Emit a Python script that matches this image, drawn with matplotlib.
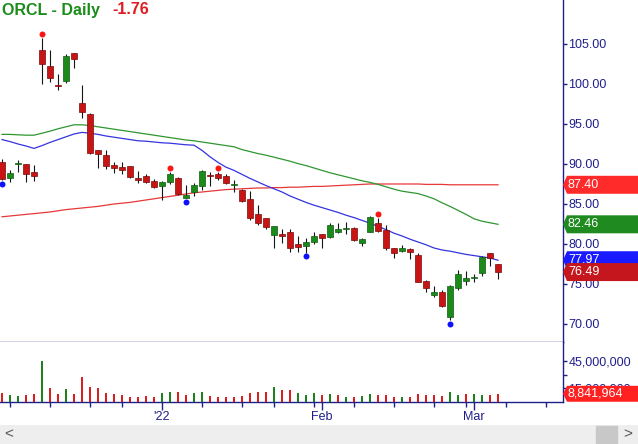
import matplotlib
matplotlib.use('Agg')
import matplotlib.pyplot as plt
import matplotlib.transforms as mtransforms
from matplotlib.patches import Polygon, Rectangle
import numpy as np

plt.rcParams['font.family'] = ['Liberation Sans', 'DejaVu Sans']

symbol = 'ORCL'
period = 'Daily'
change = -1.76

# daily candles, 3 Dec 2021 .. 4 Mar 2022
opens = [90.3, 88.2, 89.95, 90.0, 89.05, 104.25, 102.3, 99.85, 100.4, 103.85,
         97.6, 96.3, 91.7, 91.1, 89.9, 89.6, 89.7, 88.3, 88.5, 87.9,
         87.2, 87.7, 88.3, 85.8, 86.5, 87.2, 88.6, 88.75, 88.55, 87.35,
         86.75, 85.6, 83.75, 83.25, 81.1, 81.25, 81.45, 80.0, 79.7, 80.3,
         81.25, 80.9, 81.45, 81.85, 81.95, 80.1, 81.55, 82.6, 81.75, 79.45,
         79.15, 79.4, 78.6, 75.4, 73.6, 74.0, 70.85, 74.45, 75.4, 75.8,
         76.35, 78.85, 77.45]
highs = [90.6, 89.2, 90.5, 90.05, 89.9, 105.7, 104.25, 101.3, 103.7, 103.9,
         99.9, 96.4, 91.7, 91.75, 90.3, 90.2, 89.8, 89.1, 88.8, 88.1,
         87.9, 89.0, 88.4, 87.4, 87.65, 89.2, 89.05, 88.95, 88.75, 88.0,
         86.9, 86.6, 84.9, 83.3, 82.3, 81.9, 81.9, 81.0, 80.7, 81.45,
         81.3, 82.65, 82.6, 82.7, 82.1, 80.75, 83.55, 83.25, 82.4, 79.5,
         79.9, 79.45, 78.85, 75.45, 74.75, 74.2, 74.9, 76.75, 76.65, 76.25,
         78.55, 78.9, 77.5]
lows = [88.0, 87.7, 89.0, 87.7, 87.9, 99.95, 100.3, 99.2, 100.1, 102.0,
        95.7, 91.3, 89.55, 89.4, 88.9, 88.8, 88.3, 87.6, 87.6, 87.0,
        85.5, 87.5, 86.1, 85.7, 86.0, 86.8, 87.2, 88.0, 87.5, 86.5,
        85.3, 83.0, 82.4, 81.9, 79.5, 80.1, 79.0, 79.0, 78.9, 79.95,
        79.45, 80.8, 81.4, 81.3, 80.4, 79.7, 81.5, 81.5, 79.25, 78.3,
        79.05, 78.1, 75.25, 74.05, 73.4, 72.1, 70.5, 74.25, 74.9, 75.3,
        76.0, 77.3, 75.6]
closes = [88.1, 88.9, 90.0, 88.8, 88.55, 102.5, 100.7, 99.75, 103.5, 103.1,
          96.5, 91.4, 91.3, 89.7, 89.55, 89.3, 88.4, 88.0, 87.8, 87.1,
          87.7, 88.75, 86.25, 86.15, 87.4, 89.1, 88.5, 88.2, 87.65, 87.55,
          85.4, 83.2, 82.6, 82.1, 82.2, 80.95, 79.45, 79.6, 80.3, 80.95,
          80.8, 82.4, 81.85, 81.9, 80.5, 80.6, 83.4, 81.6, 79.55, 78.85,
          79.55, 79.05, 75.3, 74.45, 74.0, 72.25, 74.75, 76.25, 75.75, 75.85,
          78.4, 78.25, 76.49]
prior_close = 90.9

volumes_m = [10.1, 7.5, 6.4, 7.5, 8.6, 45.0, 15.75, 8.6, 14.25, 8.6,
             27.75, 16.5, 15.4, 9.75, 8.6, 7.5, 5.25, 5.6, 6.4, 5.6,
             9.75, 10.9, 10.9, 7.5, 9.75, 10.9, 6.4, 5.25, 5.25, 5.6,
             6.4, 9.75, 10.9, 10.9, 16.5, 13.5, 13.5, 9.75, 7.5, 9.75,
             7.5, 8.6, 7.5, 5.25, 5.25, 6.4, 8.6, 7.5, 7.5, 5.25,
             5.25, 5.25, 8.6, 7.5, 7.5, 6.4, 10.9, 7.5, 8.6, 8.6,
             7.5, 7.5, 8.841964]

sma_fast = [93.05, 92.8, 92.5, 92.25, 91.95, 92.3, 92.7, 93.05, 93.4, 93.75,
            93.95, 93.85, 93.7, 93.5, 93.35, 93.2, 93.05, 92.9, 92.85, 92.75,
            92.65, 92.6, 92.5, 92.4, 92.35, 91.7, 90.9, 90.2, 89.6, 89.2,
            88.7, 88.2, 87.75, 87.3, 86.9, 86.5, 86.0, 85.6, 85.2, 84.85,
            84.55, 84.25, 83.95, 83.6, 83.3, 82.95, 82.6, 82.2, 81.8, 81.35,
            81.0, 80.6, 80.25, 79.9, 79.5, 79.25, 79.1, 78.9, 78.7, 78.55,
            78.4, 78.25, 77.97]
sma_mid = [93.7, 93.7, 93.65, 93.6, 93.6, 93.85, 94.1, 94.4, 94.65, 94.9,
           94.9, 94.8, 94.65, 94.5, 94.35, 94.2, 94.05, 93.9, 93.75, 93.6,
           93.45, 93.3, 93.15, 93.0, 92.9, 92.75, 92.6, 92.45, 92.3, 92.15,
           91.8, 91.55, 91.3, 91.1, 90.85, 90.6, 90.35, 90.05, 89.8, 89.5,
           89.2, 88.9, 88.65, 88.4, 88.15, 87.9, 87.7, 87.45, 87.15, 86.85,
           86.6, 86.45, 86.3, 86.0, 85.65, 85.15, 84.7, 84.2, 83.7, 83.15,
           82.85, 82.65, 82.46]
sma_slow = [83.4, 83.5, 83.6, 83.7, 83.8, 83.9, 84.0, 84.15, 84.3, 84.4,
            84.5, 84.6, 84.7, 84.85, 85.0, 85.1, 85.2, 85.35, 85.5, 85.65,
            85.8, 85.95, 86.1, 86.25, 86.4, 86.5, 86.6, 86.7, 86.8, 86.85,
            86.9, 86.95, 87.0, 87.0, 87.05, 87.05, 87.1, 87.1, 87.15, 87.2,
            87.2, 87.25, 87.3, 87.35, 87.4, 87.45, 87.5, 87.5, 87.5, 87.5,
            87.5, 87.5, 87.5, 87.45, 87.45, 87.45, 87.4, 87.4, 87.4, 87.4,
            87.4, 87.4, 87.4]

pivot_highs = [5, 21, 27, 47]
pivot_lows = [0, 23, 38, 56]

week_ticks = [1, 6, 11, 15, 20, 25, 30, 34, 39, 44, 49, 54, 58, 63, 68]
month_ticks = [20, 40, 59]
month_labels = ["'22", 'Feb', 'Mar']
price_ticks = [70, 75, 80, 85, 90, 95, 100, 105]
volume_ticks = [15e6, 45e6]
volume_minor = [30e6]

NAVY = '#1f1f8c'
UP = '#1b8a1b'
DOWN = '#c81414'

W, H = 638, 444


def box(x0, y0, x1, y1):
    # pixel rectangle (top-left origin) -> figure fraction
    return [x0 / W, 1 - y1 / H, (x1 - x0) / W, (y1 - y0) / H]


def tag(ax, value, text, color, half):
    tr = mtransforms.blended_transform_factory(ax.transAxes, ax.transData)
    aw = ax.get_position().width * W
    pts = [(1.0, value), (1 + 4 / aw, value + half), (1 + 76 / aw, value + half),
           (1 + 76 / aw, value - half), (1 + 4 / aw, value - half)]
    ax.add_patch(Polygon(pts, closed=True, transform=tr, facecolor=color,
                         edgecolor='none', clip_on=False, zorder=6))
    ax.text(1 + 5 / aw, value, text, transform=tr, color='white', fontsize=9,
            va='center', ha='left', zorder=7, clip_on=False)


def main():
    o = np.array(opens)
    h = np.array(highs)
    l = np.array(lows)
    c = np.array(closes)
    idx = np.arange(len(c))
    vol = np.array(volumes_m) * 1e6

    fig = plt.figure(figsize=(W / 100, H / 100), dpi=100)
    ax = fig.add_axes(box(0, 0, 563, 341.5))
    axv = fig.add_axes(box(0, 341.5, 563, 401.7), sharex=ax)

    # price panel
    ax.plot(idx, sma_slow, color='#e63838', lw=0.9, zorder=2)
    ax.plot(idx, sma_mid, color='#2f962f', lw=0.9, zorder=2)
    ax.plot(idx, sma_fast, color='#3434e0', lw=0.9, zorder=2)

    up = c >= o
    ax.vlines(idx, l, h, color='#151515', lw=0.8, zorder=3)
    ax.bar(idx, np.maximum(np.abs(c - o), 0.12), bottom=np.minimum(o, c), width=0.72,
           color=np.where(up, UP, DOWN), edgecolor=np.where(up, '#0e5a0e', '#7a0a0a'),
           linewidth=0.5, zorder=4)

    ax.plot(pivot_highs, h[pivot_highs] + 0.55, 'o', color='#ff1414', ms=4.3, mec='none', zorder=5)
    ax.plot(pivot_lows, l[pivot_lows] - 0.45, 'o', color='#1010ff', ms=4.3, mec='none', zorder=5)

    ax.set_xlim(-0.25, 70.125)
    ax.set_ylim(67.81, 110.5)
    ax.yaxis.tick_right()
    ax.set_yticks(price_ticks)
    ax.set_yticklabels([f'{v:.2f}' for v in price_ticks])
    ax.tick_params(axis='y', colors=NAVY, labelsize=9, length=3, width=1, pad=1)
    ax.tick_params(axis='x', bottom=False, labelbottom=False)
    for s in ['top', 'left']:
        ax.spines[s].set_visible(False)
    for s in ['right', 'bottom']:
        ax.spines[s].set_color(NAVY)
        ax.spines[s].set_linewidth(1)

    tag(ax, sma_slow[-1], f'{sma_slow[-1]:.2f}', '#ff2a2a', 1.125)
    tag(ax, sma_mid[-1], f'{sma_mid[-1]:.2f}', '#1f8a1f', 1.125)
    tag(ax, sma_fast[-1], f'{sma_fast[-1]:.2f}', '#1a1aff', 1.125)
    tag(ax, closes[-1], f'{closes[-1]:.2f}', '#c4161c', 1.125)

    # volume panel
    prev = np.concatenate([[prior_close], c[:-1]])
    axv.bar(idx, vol, width=0.27, color=np.where(c > prev, '#1f801f', '#d42020'), zorder=3)
    axv.set_ylim(0, 67.2e6)
    axv.yaxis.tick_right()
    axv.set_yticks(volume_ticks)
    axv.set_yticklabels([f'{v:,.0f}' for v in volume_ticks])
    axv.set_yticks(volume_minor, minor=True)
    axv.tick_params(axis='y', which='both', colors=NAVY, labelsize=9, length=3, width=1, pad=1)
    axv.set_xticks(month_ticks)
    axv.set_xticklabels(month_labels)
    axv.set_xticks(week_ticks, minor=True)
    axv.tick_params(axis='x', which='major', colors=NAVY, labelsize=9, length=6, width=1, pad=0.5)
    axv.tick_params(axis='x', which='minor', colors=NAVY, length=3.6, width=1)
    for s in ['top', 'left']:
        axv.spines[s].set_visible(False)
    for s in ['right', 'bottom']:
        axv.spines[s].set_color(NAVY)
        axv.spines[s].set_linewidth(1)
    tag(axv, vol[-1], f'{vol[-1]:,.0f}', '#ff2020', 8.9e6)

    # title
    fig.text(2 / W, 1 - 10 / H, f'{symbol} - {period}', color='#1a8c1a', fontsize=11.5,
             fontweight='bold', va='center', ha='left')
    fig.text(112 / W, 1 - 10 / H, f'{change:.2f}', color='#e01a1f', fontsize=11.5,
             fontweight='bold', va='center', ha='left')

    # scroll bar
    sb = fig.add_axes(box(0, 425, 638, 444))
    sb.set_xlim(0, W)
    sb.set_ylim(0, 19)
    sb.set_facecolor('#eeeeee')
    sb.add_patch(Rectangle((596, 1), 21, 17, color='#c8c8c8'))
    sb.text(9, 9.5, '<', color='#555555', fontsize=11, ha='center', va='center')
    sb.text(628, 9.5, '>', color='#555555', fontsize=11, ha='center', va='center')
    sb.set_xticks([])
    sb.set_yticks([])
    for s in sb.spines.values():
        s.set_visible(False)

    fig.savefig('out.png', dpi=100)


if __name__ == '__main__':
    main()
